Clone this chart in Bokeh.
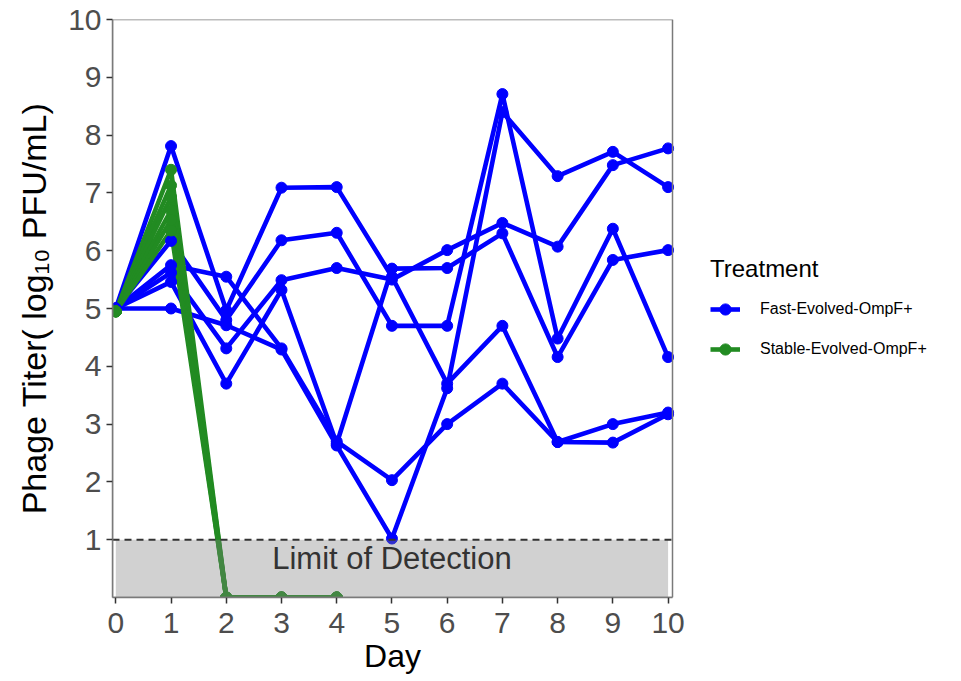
from bokeh.plotting import figure
from bokeh.models import Range1d, Legend, LegendItem, FixedTicker, BoxAnnotation, Title
from bokeh.core.properties import value
from bokeh.embed import file_html
from bokeh.resources import INLINE

# ---------------- data ----------------
days = [0, 1, 2, 3, 4, 5, 6, 7, 8, 9, 10]

fast_1 = [5.0, 7.81, 4.97, 7.09, 7.10, 5.55, 3.70, 4.70, 2.69, 3.00, 3.20]
fast_2 = [5.0, 6.17, 4.80, 6.18, 6.31, 4.70, 4.70, 8.71, 4.48, 6.38, 4.16]
fast_3 = [5.0, 5.75, 5.55, 4.31, 2.70, 2.03, 3.00, 3.70, 2.69, 2.68, 3.17]
fast_4 = [5.0, 5.62, 4.31, 5.49, 5.70, 5.50, 6.01, 6.48, 6.07, 7.48, 7.77]
fast_5 = [5.0, 5.46, 3.70, 5.32, 2.66, 5.69, 5.70, 6.30, 4.16, 5.84, 6.01]
fast_6 = [5.0, 5.00, 4.71, 4.29, 2.63, 1.02, 3.62, 8.40, 7.29, 7.71, 7.10]
fast_series = [fast_1, fast_2, fast_3, fast_4, fast_5, fast_6]

stable_days = [0, 1, 2, 3, 4]
stable_1 = [4.95, 7.40, 0.0, 0.0, 0.0]
stable_2 = [4.95, 7.13, 0.0, 0.0, 0.0]
stable_3 = [4.95, 6.93, 0.0, 0.0, 0.0]
stable_4 = [4.95, 6.70, 0.0, 0.0, 0.0]
stable_5 = [4.95, 6.53, 0.0, 0.0, 0.0]
stable_6 = [4.95, 6.35, 0.0, 0.0, 0.0]
stable_series = [stable_1, stable_2, stable_3, stable_4, stable_5, stable_6]

lod = 1.0
lod_label = "Limit of Detection"
lod_label_y = 0.68
x_ticks = list(range(0, 11))
y_ticks = list(range(1, 11))

BLUE = "#0000FF"
GREEN = "#228B22"
FONT = "Liberation Sans"

# panel (data) area: x from X_LO to X_HI occupies PANEL_W pixels
X_LO, X_HI = -0.06, 10.08
Y_LO, Y_HI = 0, 10
PANEL_W = 560
W, H = 950, 680
BL, BR, BT, BB = 112, 10, 19, 83
frame_w = W - BL - BR
x_end = X_LO + frame_w * (X_HI - X_LO) / PANEL_W

# ---------------- figure ----------------
p = figure(
    width=W, height=H,
    min_border_left=BL, min_border_top=BT, min_border_bottom=BB, min_border_right=BR,
    x_range=Range1d(X_LO, x_end), y_range=Range1d(Y_LO, Y_HI),
    output_backend="svg", toolbar_location=None,
    background_fill_color="white", border_fill_color="white",
)
p.xgrid.visible = False
p.ygrid.visible = False
p.outline_line_color = None

# panel border
p.add_layout(BoxAnnotation(left=X_LO, right=X_HI, bottom=Y_LO, top=Y_HI,
                           fill_alpha=0, line_color="#7A7A7A", line_alpha=1.0,
                           line_width=1.5))

blue_lines, blue_pts, green_lines, green_pts = [], [], [], []
for s in fast_series:
    blue_lines.append(p.line(days, s, line_color=BLUE, line_width=4.6))
for s in stable_series:
    green_lines.append(p.line(stable_days, s, line_color=GREEN, line_width=4.6))
for s in fast_series:
    blue_pts.append(p.scatter(days, s, size=11, fill_color=BLUE, line_color=BLUE))
for s in stable_series:
    green_pts.append(p.scatter(stable_days, s, size=11, fill_color=GREEN, line_color=GREEN))

# limit of detection band + dashed line
p.quad(left=[days[0]], right=[days[-1]], bottom=[Y_LO], top=[lod],
       fill_color="#7F7F7F", fill_alpha=0.36, line_alpha=0)
p.segment(x0=[X_LO], x1=[X_HI], y0=[lod], y1=[lod], line_color="#333333",
          line_width=2, line_dash="7 5")
p.text(x=[(days[0] + days[-1]) / 2], y=[lod_label_y], text=[lod_label],
       text_align="center", text_baseline="middle", text_font_size="31px",
       text_color="#333333", text_font=value(FONT))

# axes
for ax in (p.xaxis[0], p.yaxis[0]):
    ax.axis_line_color = "#7A7A7A"
    ax.axis_line_width = 1.5
    ax.major_tick_line_color = "#333333"
    ax.major_tick_line_width = 1.5
    ax.major_tick_out = 6
    ax.major_tick_in = 0
    ax.minor_tick_line_color = None
    ax.major_label_text_font = FONT
    ax.major_label_text_font_size = "30px"
    ax.major_label_text_color = "#4D4D4D"
    ax.axis_label_text_font = FONT
    ax.axis_label_text_font_style = "normal"
    ax.axis_label_text_color = "#000000"

p.xaxis.bounds = (X_LO, X_HI)
p.xaxis.ticker = FixedTicker(ticks=x_ticks)
p.yaxis.ticker = FixedTicker(ticks=y_ticks)
p.yaxis.axis_label = "Phage Titer( log\u2081\u2080 PFU/mL)"
p.yaxis.axis_label_text_font_size = "34px"
p.xaxis.major_label_standoff = 9
p.yaxis.major_label_standoff = 5
p.yaxis.axis_label_standoff = 12

# x-axis title, centred under the data panel
DAY_SIZE = 32
day_text_w = 1.778 * DAY_SIZE
day_title = Title(text="Day", align="left", offset=PANEL_W / 2 - day_text_w / 2,
                  text_font=FONT, text_font_size=f"{DAY_SIZE}px", text_font_style="normal",
                  text_color="#000000", standoff=0)
p.add_layout(day_title, "below")

legend = Legend(
    items=[
        LegendItem(label="Fast-Evolved-OmpF+", renderers=[blue_lines[0], blue_pts[0]]),
        LegendItem(label="Stable-Evolved-OmpF+", renderers=[green_lines[0], green_pts[0]]),
    ],
    title="Treatment",
    location=(PANEL_W + 38, 234),
)
legend.title_text_font = FONT
legend.title_text_font_size = "24px"
legend.title_text_font_style = "normal"
legend.title_text_color = "#000000"
legend.title_standoff = 12
legend.label_text_font = FONT
legend.label_text_font_size = "16px"
legend.label_text_color = "#000000"
legend.glyph_width = 30
legend.glyph_height = 28
legend.label_standoff = 20
legend.spacing = 12
legend.border_line_color = None
legend.background_fill_alpha = 0
legend.margin = 0
legend.padding = 2
p.add_layout(legend, "center")

open("out.html", "w").write(file_html(p, INLINE))
